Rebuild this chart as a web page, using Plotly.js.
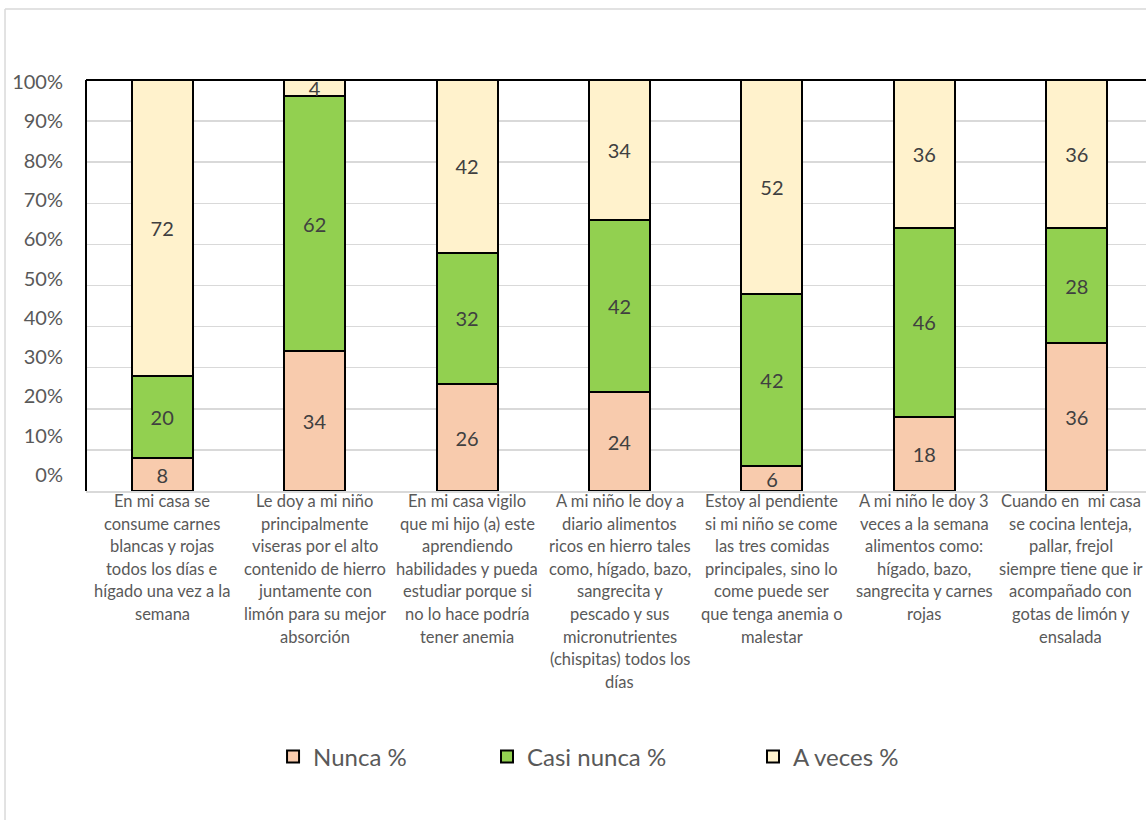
<!DOCTYPE html>
<html>
<head>
<meta charset="utf-8">
<script src="https://cdn.plot.ly/plotly-3.0.1.min.js"></script>
<style>
html, body { margin: 0; padding: 0; overflow: hidden; background: #fff; }
#chart { width: 1160px; height: 820px; }
</style>
</head>
<body>
<div id="chart"></div>
<script>
// ---- data ----
const categories = [
  "En mi casa se<br>consume carnes<br>blancas y rojas<br>todos los días e<br>hígado una vez a la<br>semana",
  "Le doy a mi niño<br>principalmente<br>viseras por el alto<br>contenido de hierro<br>juntamente con<br>limón para su mejor<br>absorción",
  "En mi casa vigilo<br>que mi hijo (a) este<br>aprendiendo<br>habilidades y pueda<br>estudiar porque si<br>no lo hace podría<br>tener anemia",
  "A mi niño le doy a<br>diario alimentos<br>ricos en hierro tales<br>como, hígado, bazo,<br>sangrecita y<br>pescado y sus<br>micronutrientes<br>(chispitas) todos los<br>días",
  "Estoy al pendiente<br>si mi niño se come<br>las tres comidas<br>principales, sino lo<br>come puede ser<br>que tenga anemia o<br>malestar",
  "A mi niño le doy 3<br>veces a la semana<br>alimentos como:<br>hígado, bazo,<br>sangrecita y carnes<br>rojas",
  "Cuando en  mi casa<br>se cocina lenteja,<br>pallar, frejol<br>siempre tiene que ir<br>acompañado con<br>gotas de limón y<br>ensalada"
];
const seriesNames = ["Nunca %", "Casi nunca %", "A veces %"];
const nunca     = [8, 34, 26, 24, 6, 18, 36];
const casiNunca = [20, 62, 32, 42, 42, 46, 28];
const aVeces    = [72, 4, 42, 34, 52, 36, 36];
const yTickVals = [0, 10, 20, 30, 40, 50, 60, 70, 80, 90, 100];
const yTickText = ["0%", "10%", "20%", "30%", "40%", "50%", "60%", "70%", "80%", "90%", "100%"];

// ---- styles ----
const FONT = "Lato, 'Open Sans', sans-serif";
const colors = ["#F8CBAD", "#92D050", "#FFF2CC"];
const legendIds = ["legend", "legend2", "legend3"];
const seriesValues = [nunca, casiNunca, aVeces];
const labelXShift = [0, 0, 0, 0, 0, 0, -6];

const traces = seriesValues.map((vals, k) => ({
  type: "bar",
  name: seriesNames[k],
  x: categories,
  y: vals,
  text: vals.map(String),
  texttemplate: "%{text}",
  textposition: "inside",
  insidetextanchor: "middle",
  textangle: 0,
  textfont: { family: FONT, size: 20, color: "#404040" },
  marker: { color: colors[k], line: { color: "#000000", width: 2 } },
  legend: legendIds[k],
  showlegend: true,
  hoverinfo: "skip"
}));

// carrier for the left tick-label axis (no marks)
traces.push({ type: "scatter", x: [], y: [], yaxis: "y2", showlegend: false, hoverinfo: "skip" });

// category labels, one annotation per line
const annotations = [];
categories.forEach((c, i) => {
  c.split("<br>").forEach((line, j) => {
    annotations.push({
      x: c, xref: "x", y: 0, yref: "y",
      text: line, showarrow: false,
      xanchor: "center", yanchor: "middle",
      xshift: labelXShift[i],
      yshift: -(10 + j * 22.6),
      font: { family: FONT, size: 16.5, color: "#595959" }
    });
  });
});

const legendCommon = {
  orientation: "h", yanchor: "middle", xanchor: "left", y: -0.647,
  bgcolor: "rgba(0,0,0,0)",
  font: { family: FONT, size: 24, color: "#595959" }
};

const layout = {
  width: 1160, height: 820,
  margin: { l: 86, r: 7, t: 80, b: 329 },
  paper_bgcolor: "#ffffff", plot_bgcolor: "#ffffff",
  barmode: "stack", bargap: 0.6,
  showlegend: true,
  font: { family: FONT, color: "#595959" },
  uniformtext: { mode: "show", minsize: 20 },
  xaxis: {
    type: "category", range: [-0.5, 6.5], fixedrange: true,
    showticklabels: false, ticks: "", showgrid: false,
    showline: true, linecolor: "#d9d9d9", linewidth: 1.5
  },
  yaxis: {
    range: [0, 100], tickvals: yTickVals, showticklabels: false,
    showgrid: true, gridcolor: "#d9d9d9", gridwidth: 1.5,
    zeroline: false, ticks: "", fixedrange: true
  },
  yaxis2: {
    type: "linear", overlaying: "y", side: "left", range: [-4.07, 100.51],
    tickmode: "array", tickvals: yTickVals, ticktext: yTickText,
    showgrid: false, zeroline: false,
    ticks: "", ticklabelstandoff: 22, showline: false,
    tickfont: { family: FONT, size: 20, color: "#595959" }, fixedrange: true
  },
  legend: Object.assign({}, legendCommon, { x: 0.1753 }),
  legend2: Object.assign({}, legendCommon, { x: 0.3758 }),
  legend3: Object.assign({}, legendCommon, { x: 0.6251 }),
  annotations: annotations,
  shapes: [
    // outer chart border (left and top visible)
    { type: "line", xref: "paper", yref: "paper", x0: -0.0759, x1: -0.0759, y0: -0.85, y1: 1.1727,
      line: { color: "#d9d9d9", width: 1.5 }, layer: "above" },
    { type: "line", xref: "paper", yref: "paper", x0: -0.0759, x1: 1.05, y0: 1.1727, y1: 1.1727,
      line: { color: "#d9d9d9", width: 1.5 }, layer: "above" },
    // plot-area frame (top and left black)
    { type: "line", xref: "paper", yref: "paper", x0: 0, x1: 1.01, y0: 1, y1: 1,
      line: { color: "#000000", width: 2 }, layer: "above" },
    { type: "line", xref: "paper", yref: "paper", x0: 0, x1: 0, y0: 0, y1: 1,
      line: { color: "#000000", width: 2 }, layer: "above" }
  ]
};

Plotly.newPlot("chart", traces, layout, { displayModeBar: false, staticPlot: true });
</script>
</body>
</html>
